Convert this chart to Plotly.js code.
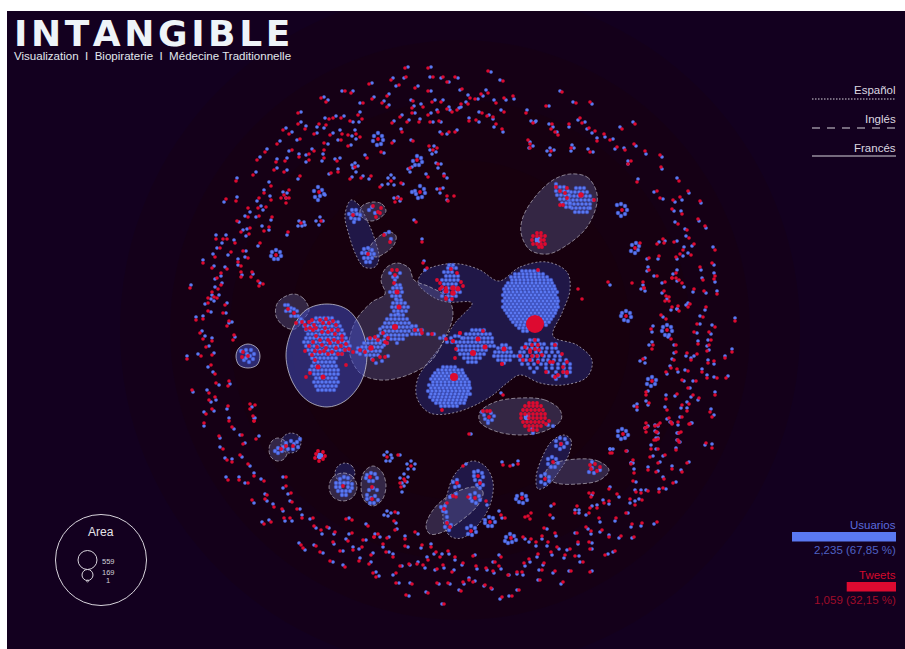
<!DOCTYPE html>
<html><head><meta charset="utf-8">
<script src="https://cdn.plot.ly/plotly-3.0.1.min.js"></script>
<style>html,body{margin:0;padding:0;background:#fff}#c{width:905px;height:649px}</style></head>
<body><div id="c"></div>
<script>
/* dyads: tweet x, tweet y, user x, user y */
const dyadsNorth=[405,68,408,67,428,68,431,67,391,80,393,78,399,85,396,86,406,77,404,78,433,77,430,77,369,84,372,83,351,93,353,91,345,91,342,91,415,88,418,86,428,91,431,91,443,77,441,78,455,77,458,78,447,82,449,82,321,98,324,97,326,102,328,100,363,103,360,103,372,99,374,97,387,96,389,94,382,103,384,101,387,107,389,105,413,101,411,100,423,107,421,104,432,102,435,100,441,102,443,100,298,113,301,112,283,130,286,128,289,134,292,132,298,124,301,122,305,129,306,126,277,144,280,141,300,139,297,140,265,152,267,149,257,160,260,157,292,150,289,151,299,157,299,154,309,154,306,155,309,160,306,162,314,151,312,149,324,150,323,154,324,158,322,161,276,162,277,159,285,161,287,158,274,170,277,168,284,172,287,170,253,175,256,172,236,181,237,178,300,176,298,179,271,186,269,182,264,193,264,190,289,190,287,193,226,199,224,202,236,201,237,197,259,198,257,201,258,208,261,206,266,207,263,210,271,200,270,196,248,208,250,212,248,217,245,216,259,216,256,217,272,217,271,220,237,221,239,222,241,232,243,230,250,228,247,229,249,234,246,236,264,231,262,226,269,227,269,230,288,232,287,235,216,239,216,235,223,239,222,243,227,239,226,235,235,243,234,240,220,248,217,248,231,252,228,255,215,257,213,254,243,251,246,251,260,243,258,246,248,258,245,257,329,119,325,118,333,118,336,116,341,118,344,116,350,121,353,122,362,119,359,122,358,115,360,112,319,124,317,127,326,125,324,128,314,134,317,133,330,135,333,133,342,134,340,130,356,134,355,130,348,135,352,136,360,137,356,139,341,140,338,140,324,143,328,144,348,146,351,145,367,158,365,155,381,152,384,153,400,117,402,115,392,123,394,121,407,122,409,120,419,122,420,119,428,115,431,113,430,122,433,122,439,121,441,122,438,112,437,110,447,109,449,107,452,112,450,110,457,110,459,108,412,108,414,106,412,113,415,113,402,132,401,129,413,141,411,140,392,143,394,141,442,134,440,132,455,132,457,130,449,132,447,134,350,179,352,177,361,178,363,176,371,176,369,179,331,173,329,174,338,172,338,169,401,183,403,184,380,187,382,185,416,222,414,220,422,242,422,239];
const dyadsNorthEast=[488,71,491,72,503,81,500,80,562,92,560,91,576,103,573,102,590,102,592,104,546,106,549,106,513,96,514,99,504,98,506,100,496,103,494,100,488,93,486,90,481,94,483,96,475,99,478,99,470,98,468,95,468,104,466,102,462,89,460,90,461,104,461,107,504,112,501,110,526,113,527,110,482,113,479,112,487,116,489,115,493,117,493,119,469,121,469,118,476,120,479,122,496,124,494,127,502,129,503,132,533,123,531,121,552,124,549,124,551,129,553,127,555,132,557,132,569,124,569,127,580,118,578,120,582,123,585,122,589,128,587,129,595,131,592,133,604,134,605,137,597,141,597,138,610,140,613,139,622,129,620,127,635,124,633,122,634,144,636,146,617,147,615,149,625,150,624,148,645,151,646,154,660,155,662,157,661,167,662,169,679,181,677,178,637,182,638,179,657,191,654,192,660,198,663,199,688,191,689,193,700,201,701,203,680,197,682,200,673,200,675,202,672,209,674,211,682,214,681,211,698,219,699,221,705,226,706,228,678,224,675,222,687,230,685,229,689,238,686,236,694,244,692,246,715,250,713,247,691,255,688,253,680,254,683,256,683,250,684,247,676,257,677,259,674,242,677,241,664,243,665,241,657,244,659,242,659,256,658,259,649,258,647,259,571,148,572,145,590,152,593,152,423,263,424,261,427,268,425,270,503,395,501,393];
const dyadsSouthWest=[204,423,204,426,229,421,229,418,232,427,234,429,242,435,240,435,254,421,254,418,219,436,220,438,256,439,259,436,243,444,245,443,223,449,220,447,240,455,242,457,227,460,225,458,232,462,232,459,248,464,250,466,254,476,254,473,228,480,226,477,239,480,239,477,248,483,245,483,264,481,261,479,286,477,283,477,286,486,283,488,291,493,288,494,267,495,265,494,265,499,267,501,252,500,254,503,274,507,273,504,292,502,290,501,282,509,283,511,297,509,300,509,302,518,302,515,313,518,310,519,284,518,285,521,290,518,292,521,271,522,269,520,264,524,262,522,314,526,316,528,327,527,329,528,321,530,322,534,335,532,334,534,346,519,349,518,368,526,366,524,352,533,349,534,333,542,334,544,301,545,299,543,303,548,305,550,316,546,314,545,348,541,346,539,363,540,366,540,378,534,375,534,374,537,380,537,387,538,389,537,395,530,397,529,405,539,405,536,415,532,418,534,383,544,383,547,405,546,408,547,422,545,421,548,431,547,431,544,340,551,343,551,353,550,353,547,362,547,359,549,320,552,323,553,371,555,373,553,359,561,360,558,330,561,333,562,369,564,371,562,345,567,343,565,386,552,389,552,393,557,393,554,373,573,376,572,376,577,379,576,396,573,393,575,400,566,402,566,409,564,410,565,417,564,418,562,423,565,425,568,428,560,427,557,436,552,434,554,440,557,442,554,448,551,449,554,455,557,455,560,437,569,435,570,443,565,444,568,452,572,454,570,396,583,399,583,412,584,410,583,437,583,439,584,448,583,450,584,428,593,426,592,406,595,409,596,444,604,442,604,461,591,459,590,398,455,400,455,394,521,396,523,395,512,398,513];
const dyadsSouthEast=[469,434,471,434,503,465,502,462,510,466,513,465,518,464,518,461,486,501,487,505,554,504,551,506,609,489,610,487,617,494,619,497,550,515,553,518,590,508,592,506,597,508,597,505,604,503,603,500,609,501,609,504,589,513,586,515,599,518,600,522,616,518,615,521,626,513,628,513,630,499,630,503,635,505,635,501,642,500,639,499,636,492,635,490,641,493,641,490,648,491,646,490,659,492,659,489,663,488,666,489,633,481,636,482,673,483,676,482,664,479,663,477,682,472,681,470,687,463,689,462,656,472,658,471,672,469,672,466,648,470,648,467,634,473,634,469,633,460,631,463,650,457,653,456,658,463,660,462,665,455,663,456,651,449,651,445,658,449,656,449,676,450,676,448,678,440,680,442,656,440,658,438,679,433,677,433,657,432,655,431,647,427,645,428,658,425,655,425,671,422,672,423,678,422,678,425,690,424,692,423,706,443,705,445,712,448,712,444,626,451,627,451,612,453,610,449,544,528,547,529,555,533,556,536,577,533,575,533,586,527,588,529,591,531,591,534,602,530,600,532,609,537,609,535,621,536,619,538,632,524,631,527,642,523,641,526,657,522,654,524,634,537,632,538,523,537,525,539,531,539,529,542,542,536,542,539,536,542,536,546,548,542,547,546,557,547,559,549,570,549,567,550,551,552,552,555,538,554,537,557,565,555,564,558,575,556,579,556,590,549,592,549,589,542,592,543,605,555,608,554,615,551,613,552,583,562,580,562,590,572,592,571,571,571,569,571,555,571,553,573,544,563,543,565,529,559,530,562,524,563,525,566,542,570,539,570,522,572,523,575,517,572,517,574,508,575,509,575,493,571,494,573,501,557,499,555,495,562,493,562,499,566,501,569,486,568,487,570,476,566,477,569,473,556,475,555,463,563,462,565,463,582,464,584,469,580,469,578,473,582,475,581,485,585,484,586,491,588,492,589,502,597,500,599,512,596,509,596,519,590,517,590,540,580,538,580,563,582,561,584,578,542,578,544,463,466,466,464];
const dyadsWest=[203,263,203,260,212,268,214,266,227,269,225,267,238,262,238,265,221,273,221,276,241,272,242,275,252,272,253,274,217,278,215,279,221,285,222,283,258,281,260,283,190,288,191,285,218,289,215,287,212,292,212,295,217,298,219,295,208,298,211,299,214,297,214,301,208,303,205,304,225,305,227,303,208,311,211,312,223,313,226,313,196,320,196,317,203,319,203,316,229,321,232,322,200,333,202,331,234,335,235,337,203,339,205,336,212,341,212,338,206,347,209,346,212,355,214,353,201,356,198,354,187,359,187,356,211,365,208,367,215,374,213,372,229,381,230,384,216,383,219,385,192,390,193,392,209,393,207,390,209,400,211,402,215,397,216,400,228,406,227,409,250,404,252,407,212,409,214,411,206,414,204,412,253,416,255,418];
const dyadsEast=[700,267,701,270,712,263,714,265,649,270,648,267,657,276,654,276,672,278,673,274,682,283,684,287,715,276,714,273,703,280,702,278,714,279,715,282,665,282,662,283,608,282,610,285,644,288,643,285,694,289,693,292,704,291,706,293,717,294,717,291,664,291,662,293,672,307,671,310,678,306,677,309,706,307,705,310,661,315,663,317,703,317,700,316,735,321,735,318,697,324,700,324,715,327,712,325,651,329,653,326,694,332,697,333,709,332,711,334,671,339,668,337,711,340,708,340,698,344,698,341,653,345,652,342,676,345,674,345,709,345,707,346,707,351,709,350,676,352,674,353,687,353,686,356,697,354,694,356,732,352,732,349,691,360,691,358,725,358,725,356,674,360,672,359,708,363,708,360,714,361,714,364,643,359,645,358,671,368,670,366,677,369,678,372,688,371,685,370,666,372,667,374,702,372,702,369,707,378,707,375,717,378,714,377,726,378,728,376,682,380,684,381,696,381,693,381,688,388,690,388,715,395,715,392,646,392,648,391,677,394,675,396,666,399,666,395,693,395,691,397,699,398,698,400,649,403,646,401,689,404,687,402,682,405,681,408,637,407,637,404,667,410,665,407,687,411,687,408,710,412,711,409,682,417,680,417,712,417,714,415,669,418,667,419,672,424,670,422,646,423,648,426,660,423,658,426,689,424,691,423,656,432,658,433,681,432,678,433,654,440,656,438,679,442,677,440];
/* loose nodes of small groups */
const smallUsers=[[335,159],[340,158],[550,148],[554,150],[547,151],[550,155],[574,148],[571,151],[588,149],[628,164],[628,161],[530,142],[533,146],[529,148],[536,121],[353,168],[358,166],[355,163],[352,165],[356,172],[388,178],[394,178],[391,175],[388,184],[394,185],[434,146],[430,150],[436,152],[432,154],[299,221],[304,222],[302,226],[298,226],[305,225],[320,217],[323,221],[319,225],[316,221],[436,163],[441,164],[438,168],[408,169],[412,167],[410,172],[426,174],[444,174],[447,178],[437,189],[443,188],[440,193],[447,200],[398,197],[394,198],[400,201],[325,195],[286,198],[283,192],[499,511],[502,518],[579,510],[575,510],[579,513],[592,495],[610,449],[613,449],[631,463],[633,463],[645,363],[640,361],[652,332],[649,345],[647,271],[677,270],[677,281],[667,299],[688,303],[686,305],[677,309],[645,291],[641,289],[634,406],[637,410],[648,405],[387,511],[391,513],[384,515],[388,516],[387,452],[391,455],[384,455],[386,461],[390,461],[392,458],[411,461],[415,464],[407,464],[408,469],[414,469],[404,474],[408,477],[400,478],[402,483],[407,482],[402,492],[404,486],[229,323],[238,259],[535,122]];
const smallTweets=[[337,161],[582,299],[578,289],[632,283],[643,282],[551,151],[631,161],[628,164],[528,140],[530,144],[355,167],[391,181],[433,150],[429,146],[437,148],[301,223],[321,221],[438,164],[410,168],[428,177],[444,176],[440,189],[447,196],[454,196],[448,201],[397,198],[401,199],[395,202],[286,198],[281,198],[289,198],[286,203],[284,195],[387,457],[411,466],[404,479],[401,487],[405,481],[400,483],[501,515],[505,518],[577,506],[575,513],[589,493],[593,493],[591,497],[610,453],[631,464],[666,296],[669,297],[665,301],[669,301],[688,307],[690,304],[679,311],[666,319],[652,349],[646,395],[645,428],[655,426],[658,439],[672,278],[676,273],[676,278],[679,280],[644,288],[259,286],[263,284],[241,277],[251,277],[241,266],[233,340],[227,326],[255,405],[250,409],[228,386],[254,421],[352,520],[374,537],[646,432],[640,243],[663,239],[528,516],[531,513],[525,517],[530,519],[558,135],[530,148],[468,497],[447,503],[456,497]];
/* ringed nodes: users */
const ringUsers=[[374,136],[378,133],[382,136],[383,140],[381,144],[377,145],[373,141],[314,191],[318,187],[322,190],[324,194],[320,196],[318,200],[315,197],[412,192],[417,156],[421,158],[422,162],[419,165],[415,165],[413,161],[415,191],[420,186],[424,189],[425,193],[422,197],[418,198],[416,194],[272,252],[276,250],[280,252],[281,256],[278,259],[274,259],[271,256],[617,205],[621,204],[625,206],[627,210],[625,214],[621,216],[618,213],[632,245],[636,243],[639,246],[638,250],[635,253],[631,251],[622,313],[626,311],[630,313],[631,317],[628,321],[624,320],[621,316],[663,327],[667,325],[671,327],[672,331],[669,335],[665,335],[662,331],[648,379],[652,377],[656,380],[655,384],[651,386],[647,384],[618,431],[622,429],[626,431],[628,435],[625,438],[621,439],[618,436],[485,520],[489,517],[493,518],[495,522],[492,526],[488,526],[485,523],[506,537],[510,534],[514,536],[516,540],[512,542],[508,543],[505,541],[517,496],[522,494],[526,496],[527,500],[523,503],[519,502],[516,499],[241,351],[246,350],[251,350],[254,354],[253,359],[249,362],[244,360],[247,354],[250,356],[246,358],[352,210],[356,210],[349,214],[353,214],[357,214],[360,215],[351,218],[355,219],[359,219],[354,222],[364,249],[368,248],[372,250],[362,253],[366,253],[370,254],[374,254],[364,258],[368,258],[372,258],[366,262],[370,262],[556,441],[560,438],[565,439],[567,443],[564,447],[560,449],[556,446],[561,444],[548,459],[552,457],[556,459],[558,463],[555,467],[551,467],[548,464],[541,476],[545,474],[549,477],[549,481],[545,484],[541,482],[474,472],[478,471],[482,473],[483,477],[480,481],[475,480],[474,476],[477,485],[483,485],[480,488],[453,482],[457,480],[459,486],[455,487],[470,495],[475,493],[479,496],[480,500],[476,503],[472,501],[470,498],[450,497],[456,494],[441,507],[445,506],[443,511],[446,512],[447,517],[447,522],[451,525],[445,527],[449,530],[467,528],[471,526],[475,528],[476,532],[472,535],[468,534],[286,443],[283,447],[288,449],[294,444],[291,441],[297,442],[298,447],[293,449],[300,439],[282,451],[278,448],[275,451],[278,453],[340,479],[344,477],[348,478],[336,483],[340,483],[344,483],[348,483],[352,484],[336,487],[340,487],[348,487],[352,488],[338,491],[342,491],[346,491],[350,491],[342,495],[346,495],[367,475],[371,473],[375,474],[377,478],[373,481],[369,481],[366,478],[369,490],[373,488],[377,490],[367,495],[371,498],[375,496],[378,500],[374,503],[370,503],[367,499],[592,462],[592,468],[589,472],[594,473],[600,470],[372,207],[369,210],[375,213],[385,234],[391,239],[389,232]];
const ringTweets=[[378,139],[319,192],[417,160],[420,192],[276,255],[622,210],[635,248],[626,316],[667,330],[652,381],[623,434],[490,522],[511,538],[522,498],[248,356],[243,352],[242,357],[353,215],[368,254],[561,444],[553,462],[545,479],[595,464],[590,465],[600,467],[597,471],[591,469],[478,476],[480,483],[457,483],[475,498],[453,496],[444,509],[447,523],[450,527],[471,531],[286,446],[293,446],[281,449],[343,486],[370,477],[372,487],[372,499],[373,206],[378,212],[380,213],[376,217],[381,208],[384,235],[390,242],[316,454],[318,451],[323,452],[325,456],[323,459],[319,461],[315,458]];
/* dense groups: each row is y, then the x of the nodes on that row */
const denseUsers=[
[271,522,526,530,534,538],[274,515,519,523,527,531,535,539,543],[277,511,515,519,523,527,531,535,539,543,547],[280,512,516,520,524,528,532,536,540,544,548,551],[283,508,512,516,520,524,528,532,536,540,544,548,552],[286,506,510,514,518,522,526,530,534,538,542,546,550,554],[289,504,508,512,516,520,524,528,532,536,540,544,548,552,555],[292,505,509,513,517,521,525,529,533,537,541,545,549,553,557],[295,503,507,511,515,519,523,527,531,535,539,543,547,551,555],[298,505,509,513,517,521,525,529,533,537,541,545,549,553,557],[301,503,507,511,515,519,523,527,531,535,539,543,547,551,555,558],[304,505,509,513,517,521,525,529,533,537,541,545,549,553,557],[307,503,507,511,515,519,523,527,531,535,539,543,547,551,555,558],[310,505,509,513,517,521,525,529,533,537,541,545,549,553,556],[313,507,511,515,519,523,527,531,535,539,543,547,551,555],[316,509,513,517,521,525,529,533,537,541,545,549,553],[319,511,515,519,523,527,531,535,539,543,547,551],[322,513,517,521,525,529,541,545,549],[325,516,520,524,528,546],[328,519,523,527,530],[331,523,527],
[367,443,447,451,455],[370,438,442,446,450,454,458,462],[373,435,439,443,447,451,455,459,463],[376,433,437,441,445,449,457,461,465],[379,431,435,439,443,447,451,455,459,463,467],[382,433,437,441,445,449,453,457,461,465,469],[385,429,433,437,441,445,449,453,457,461,465,469],[388,431,435,439,443,447,451,455,459,463,467,470],[391,428,432,436,440,444,448,452,456,460,464,468],[394,431,435,439,443,447,451,455,459,463,467,470],[397,430,434,438,442,446,450,454,458,462,466],[400,433,437,441,445,449,453,457,461,465],[403,436,440,444,448,452,456,460,464],[406,441,445,449,453,457],
[330,472,476,480,484],[334,466,470,474,478,482,486,490],[338,464,468,472,476,480,484,488,492],[342,460,464,468,472,476,480,484,488,492],[346,458,462,466,470,474,478,482,486,490,494],[350,458,462,466,470,474,478,482,486],[354,460,464,468,472,476,480,484],[358,464,468,472,476,480],[362,468,472,476],
[338,440,444,451,462],[336,444,455,459],[342,447,452,456],
[345,502,506],[348,498,502,506,510],[352,495,499,503,507,511],[356,494,498,502,506,510,514],[360,498,502,506,510],[363,504],
[340,530,534,538],[344,526,530,535,540,544,552,556],[348,522,527,532,537,542,547,552,556],[352,520,524,530,536,541,546,552,558],[356,518,522,527,533,538,544,549,555,560],[360,520,526,532,538,543,548,554,560,566],[364,522,528,534,541,546,552,558,564,570],[368,530,537,546,552,558,564,570],[372,534,548,556,564,570],[376,553,559,566],[379,556],
[265,449,453],[268,448,452,456],[272,444,448,452],[276,446,450,454,458],[280,442,446,450,454,458],[284,444,448,452,456],[288,442,448,452,456],[292,444,448,456,460],[296,442,448,452,456],[300,450],
[318,316,320,324,328,332],[322,300,304,310,314,318,322,326,330,334,338],[326,304,308,312,316,320,324,328,332,336,340],[330,306,310,314,318,322,326,330,334,338,342],[334,308,312,316,320,324,328,332,336,340,344],[338,306,310,314,318,322,326,330,334,338,342,346],[342,304,308,312,316,320,324,328,332,336,340,344,348],[346,306,310,314,318,322,326,330,334,338,342,346,350],[350,308,312,316,320,324,328,332,336,340,344,348],[354,310,314,318,322,326,330,334,338,342],[358,312,316,320,324,328,332,336],[362,314,318,322,326,330,334],[366,312,316,320,324,328,332,336],[370,310,314,318,322,326,330,334,338],[374,314,318,322,326,330,334,338],[378,316,320,324,328,332,336],[382,314,318,322,326,330,334,338],[386,316,320,324,328,332,336],[390,318,322,326,330,334],
[305,285,288],[308,291],[309,294],[311,286,290,297],[316,291,295,298],[319,301],
[315,391,395,399,403],[319,387,391,395,399,403,407],[323,385,389,393,397,401,405,409],[327,383,387,391,395,399,403,407,411],[331,385,389,393,397,401,405,409],[335,387,391,395,399,403,407],[339,391,395,399,403],[343,397],
[300,397,401],[303,393,397,401,405],[307,392,396,400,404,408],[311,394,398,402,406],[314,398],
[285,396,400],[288,393,397,401],[292,390,394,398,402],[296,392,396,400],[299,396],
[273,390,400],[277,393,397],[280,395],
[326,412,416],[330,414,418,422],[334,412,416,420,428,434],[329,380],[333,381],[336,378,385],[340,384],[341,380],[343,387],[345,384],
[339,368,372,376],[343,364,368,372,376,380],[347,362,366,370,374,378,382],[351,364,368,372,376,380],[355,366,370,374,378],[359,372],[348,358],[352,357],[354,360],[361,382],[363,376],[356,388],
[188,576,580,584],[192,571,575,579,583,587],[196,570,574,578,582,586,590],[200,569,573,577,581,585,589,593],[204,570,574,578,582,586,590],[208,572,576,580,584,588,590],[212,575,579,583,587],
[184,556],[187,556,560,564],[191,556,560,564,568],[195,557,561,565,569],[199,560,564,568],[203,562,566,570],[207,566,570],
[415,484],[419,485],[421,488],[420,492],[416,494],[413,491],[412,482],[423,488],[425,548],[426,553],[429,532],[433,533]];
const denseTweets=[
[322,302,309],[325,305,314],[320,312,320],[328,310,316],[329,306],[330,313,332],[323,323,329],[319,326],[321,333],[325,336],[330,338],[328,325],[332,322,328],[334,335],[336,316],[340,320,334,342],[342,313,338],[346,309,341],[351,305],[347,317],[345,322],[348,326,336],[343,330],[344,346],[349,349],[350,345],[352,332],[354,338,342,328],[351,324,315],[352,320],[355,312],[340,328],[336,342],[352,353],[323,296],[365,346],[360,315],[373,310],[377,306],
[309,288],[313,294],
[270,392,397],[275,395],[283,394],
[333,383],[338,388],[343,387],[342,385],[340,378],[330,415,421],[333,422],[334,432],
[338,370],[337,375],[352,365],[350,360],[360,373],[357,380,385],
[288,446,458],[291,446],[289,440],[283,440],[280,437],[287,442],[286,463],[282,461],[273,457],[269,451],[299,446,452],[298,446],
[339,478],[331,483],[349,456],[358,455],[333,460],[341,453],
[340,535],[345,538,532],[347,525],[349,535],[355,542],[352,530],[356,520,532,537],[360,523,530],[362,538,550,553,567],[354,562],[367,563],[372,563,567],[373,567],[375,558],[377,555],[372,546],[350,539,530],[345,555],[364,502],
[403,529,533,537],[406,525,529,533,537,541],[410,523,527,531,535,539,543],[414,521,525,529,533,537,541,545],[418,521,529,533,537,541,545],[422,523,527,531,535,539,543],[426,525,529,533,537,541],[430,529,533,537],
[411,483,487,490],[417,489],[421,549],[424,546],[233,537,541],[236,533,537,541,545],[240,532,541,544],[244,533,537,541,545],[247,539,542],
[187,556],[191,560],[193,565],[188,567],[198,567],[205,560,563],[200,594],
[410,442],[270,538],[364,502],[333,460],[339,446],[341,453]];
/* larger nodes: x, y, tweets linked */
const hubsX=[535,454,453,453,473,485,478,395,399,397,371,318,323,504,581,446,458];
const hubsY=[324,377,288,293,353,347,339,327,307,292,348,367,377,349,195,291,289];
const hubsSize=[18,8,5.5,5.5,6,5,5,6,5,5,5.5,5,5,5,5.5,5,5];
const hubUsersX=[527,538,320];const hubUsersY=[417,240,456];
/* language hulls */
const hullsFrench=[
 [[397,263],[409,268],[414,280],[430,287],[448,298],[453,315],[444,340],[430,362],[405,376],[380,380],[360,373],[349,350],[355,322],[372,302],[385,294],[381,280],[386,268],[397,263]],
 [[570,174],[587,177],[596,190],[597,203],[587,227],[567,245],[548,254],[530,250],[521,233],[523,217],[535,197],[553,180],[570,174]],
 [[520,398],[545,400],[560,410],[561,420],[545,431],[520,435],[495,431],[480,422],[480,412],[495,402],[520,398]],
 [[373,202],[382,204],[386,211],[380,218],[372,221],[364,219],[360,214],[362,206],[373,202]],
 [[390,232],[396,236],[394,245],[385,253],[376,257],[369,254],[371,245],[381,235],[390,232]],
 [[278,438],[286,442],[288,450],[284,459],[277,461],[271,457],[269,449],[272,441],[278,438]],
 [[343,473],[352,476],[357,486],[353,497],[343,501],[333,497],[329,487],[333,477],[343,473]],
 [[373,466],[382,472],[386,486],[382,500],[373,506],[364,500],[361,486],[364,472],[373,466]],
 [[475,487],[483,492],[478,505],[462,520],[443,532],[430,534],[426,526],[433,510],[450,495],[475,487]],
 [[577,459],[598,461],[609,470],[600,480],[578,484],[556,483],[545,476],[551,465],[577,459]],
 [[293,294],[303,298],[309,310],[303,320],[295,329],[285,327],[276,316],[278,302],[293,294]]];
const hullsSpanish=[
 [[499,281],[520,267],[547,262],[567,272],[570,290],[562,313],[553,336],[577,345],[592,360],[587,377],[563,385],[540,383],[520,375],[507,383],[490,397],[457,412],[430,413],[417,398],[418,378],[440,347],[455,323],[472,303],[447,302],[433,297],[418,283],[423,272],[440,265],[460,264],[480,270],[499,281]],
 [[351,200],[358,204],[367,220],[375,240],[379,258],[375,267],[364,267],[356,255],[349,235],[345,215],[351,200]],
 [[291,433],[299,436],[301,443],[297,451],[289,453],[283,450],[281,443],[284,436],[291,433]],
 [[345,463],[352,466],[355,473],[352,480],[345,483],[338,480],[335,473],[338,466],[345,463]],
 [[472,461],[485,466],[493,482],[490,505],[478,525],[462,538],[450,536],[443,520],[447,495],[455,474],[472,461]],
 [[564,435],[571,440],[569,454],[560,470],[547,486],[538,489],[536,478],[541,460],[552,441],[564,435]]];
const hullsBlue=[
 [[327,304],[348,310],[362,330],[367,356],[361,382],[345,401],[327,407],[308,401],[293,383],[286,356],[292,330],[306,310],[327,304]],
 [[248,344],[257,348],[260,356],[257,365],[248,368],[239,365],[236,356],[239,348],[248,344]]];
/* totals */
const userTotal=2235,tweetTotal=1059;
const areaKeyValues=['559','169','1'];

const fromRows=rows=>rows.flatMap(r=>r.slice(1).map(x=>[x,r[0]]));
const allDyads=[...dyadsNorth,...dyadsNorthEast,...dyadsSouthWest,...dyadsSouthEast,...dyadsWest,...dyadsEast];
const dyT=[],dyU=[];
for(let i=0;i<allDyads.length;i+=4){dyT.push([allDyads[i],allDyads[i+1]]);dyU.push([allDyads[i+2],allDyads[i+3]]);}
const hullTrace=(pts,fill,line,dash,w)=>({x:pts.map(p=>p[0]),y:pts.map(p=>p[1]),mode:'lines',line:{shape:'spline',smoothing:1,color:line,dash:dash,width:w},fill:'toself',fillcolor:fill,hoverinfo:'skip',showlegend:false});
const pts=(list,color,size,edge)=>({x:list.map(p=>p[0]),y:list.map(p=>p[1]),mode:'markers',marker:{color:color,size:size,opacity:1,line:{width:edge?0.5:0,color:edge||color}},hoverinfo:'skip',showlegend:false});
const BLUE='#5a78f2',RED='#dd0a30';
const traces=[
 ...hullsSpanish.map(h=>hullTrace(h,'rgba(45,55,150,0.42)','rgba(205,200,210,0.65)','2px,2px',1)),
 ...hullsFrench.map(h=>hullTrace(h,'rgba(105,105,165,0.36)','rgba(205,200,210,0.6)','4px,2px',1)),
 ...hullsBlue.map(h=>hullTrace(h,'rgba(65,75,190,0.55)','rgba(215,215,225,0.7)','solid',1)),
 pts(fromRows(denseUsers),BLUE,3.7,'#3f55c8'),
 pts(ringUsers,BLUE,3.8,'#3f55c8'),
 pts(smallUsers,BLUE,3.6),
 pts(dyU,BLUE,3.6),
 {x:hubUsersX,y:hubUsersY,mode:'markers',marker:{color:BLUE,size:6.5,opacity:1,line:{width:0}},hoverinfo:'skip',showlegend:false},
 pts(fromRows(denseTweets),RED,3.8),
 pts(ringTweets,RED,3.8),
 pts(smallTweets,RED,3.6),
 pts(dyT,RED,3.6),
 {x:hubsX,y:hubsY,mode:'markers',marker:{color:RED,size:hubsSize,opacity:1,line:{width:0}},hoverinfo:'skip',showlegend:false}
];
const lineShape=(y,dash)=>({type:'line',x0:812,x1:896,y0:y,y1:y,line:{color:'#d8d4dc',width:1,dash:dash}});
const circle=(cx,cy,r,w,col)=>({type:'circle',x0:cx-r,x1:cx+r,y0:cy-r,y1:cy+r,line:{color:col||'#d8d4dc',width:w||1}});
const glow=r=>({type:'circle',layer:'below',x0:460-r,x1:460+r,y0:330-r,y1:330+r,fillcolor:'rgba(32,0,0,0.16)',line:{width:0}});
const shapes=[glow(340),glow(290),glow(230),glow(170),
 lineShape(99,'1.5px,1.5px'),lineShape(128,'8px,7px'),lineShape(156,'solid'),
 {type:'rect',x0:896-104,x1:896,y0:532,y1:541.5,fillcolor:BLUE,line:{width:0}},
 {type:'rect',x0:896-104*tweetTotal/userTotal,x1:896,y0:582,y1:591.5,fillcolor:RED,line:{width:0}},
 circle(101,560,45.5),circle(87.5,560,9.5),circle(87.5,575,5.5),circle(87.5,581,1,0.7)];
const note=(text,x,y,size,color,anchor,extra,family)=>Object.assign({text:text,x:x,y:y,xref:'x',yref:'y',showarrow:false,xanchor:anchor||'right',yanchor:'middle',font:{family:family||'"Liberation Sans",Arial,sans-serif',size:size,color:color}},extra||{});
const T='\u200a';
const annotations=[
 note('<b>'+'INTANGIBLE'.split('').join(T)+'</b>',12,33,36,'#eef4f8','left',null,'"DejaVu Sans",sans-serif'),
 note('Visualization\u00a0\u00a0I\u00a0\u00a0Biopiraterie\u00a0\u00a0I\u00a0\u00a0Médecine Traditionnelle',12,56,11.55,'#e2e8ee','left'),
 note('Español',898,90,11.5,'#dcd8e0'),note('Inglés',898,119,11.5,'#dcd8e0'),note('Francés',898,148,11.5,'#dcd8e0'),
 note('Usuarios',898,525,11.5,'#5a6bdc'),note('2,235 (67,85 %)',898,550,11.5,'#4f60c4'),
 note('Tweets',898,575,11.5,'#d40a2c'),note('1,059 (32,15 %)',898,600,11.5,'#a00c2a'),
 note('Area',100.5,532,12,'#e6e4ea','center'),
 note(areaKeyValues[0],108,561,7.5,'#d0d0d8','center'),note(areaKeyValues[1],108,572,7.5,'#d0d0d8','center'),note(areaKeyValues[2],108,580,7.5,'#d0d0d8','center')];
const axis=r=>({range:r,visible:false,fixedrange:true,showgrid:false,zeroline:false});
Plotly.newPlot('c',traces,{width:905,height:649,margin:{l:7,t:11,r:0,b:0,pad:0},paper_bgcolor:'#ffffff',plot_bgcolor:'#13001f',xaxis:axis([7,905]),yaxis:axis([649,11]),shapes:shapes,annotations:annotations,showlegend:false},{staticPlot:true,displayModeBar:false});
</script></body></html>
